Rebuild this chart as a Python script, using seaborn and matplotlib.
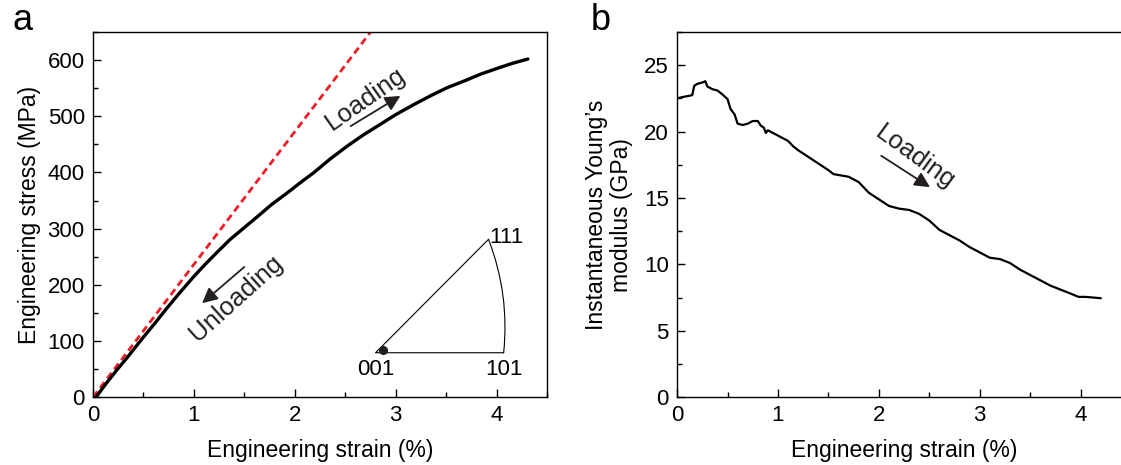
import numpy as np
import pandas as pd
import seaborn as sb
import matplotlib.pyplot as plt
from matplotlib.ticker import MultipleLocator

# panel a: stress-strain curve
strain_a = [0.03, 0.12, 0.23, 0.35, 0.5, 0.62, 0.73, 0.86, 1.0, 1.12, 1.23, 1.36, 1.5,
            1.64, 1.77, 1.92, 2.07, 2.19, 2.35, 2.52, 2.68, 2.85, 3.0, 3.18, 3.35,
            3.51, 3.68, 3.84, 4.0, 4.15, 4.31]
stress_a = [0, 22, 47, 73, 107, 133, 158, 186, 215, 238, 258, 281, 302,
            323, 343, 363, 384, 400, 424, 447, 467, 486, 503, 521, 537,
            551, 563, 575, 585, 594, 602]
# red dashed linear-elastic line
fit_strain = [0.0, 2.75]
fit_stress = [0, 650]

# panel b: instantaneous Young's modulus
strain_b = [0.0, 0.05, 0.12, 0.15, 0.17, 0.2, 0.25, 0.28, 0.3, 0.35, 0.4, 0.45, 0.5,
            0.53, 0.57, 0.6, 0.65, 0.7, 0.75, 0.8, 0.83, 0.86, 0.88, 0.9, 1.0, 1.1,
            1.15, 1.2, 1.3, 1.4, 1.5, 1.55, 1.7, 1.8, 1.9, 2.0, 2.1, 2.2, 2.3, 2.4,
            2.5, 2.6, 2.7, 2.8, 2.9, 3.0, 3.1, 3.2, 3.3, 3.4, 3.5, 3.6, 3.7, 3.8,
            3.9, 3.98, 4.05, 4.2]
modulus_b = [22.5, 22.6, 22.7, 22.75, 23.45, 23.6, 23.7, 23.8, 23.4, 23.2, 23.1, 22.8, 22.45,
             21.7, 21.3, 20.6, 20.5, 20.6, 20.8, 20.8, 20.45, 20.3, 19.9, 20.1, 19.7, 19.3,
             18.9, 18.6, 18.1, 17.6, 17.1, 16.8, 16.6, 16.2, 15.4, 14.9, 14.4, 14.2, 14.1, 13.8,
             13.3, 12.6, 12.2, 11.8, 11.3, 10.9, 10.5, 10.4, 10.1, 9.6, 9.2, 8.8, 8.4, 8.1,
             7.8, 7.55, 7.55, 7.45]

# inverse pole figure triangle (in panel a data units)
ipf_001 = (2.80, 79)
ipf_101 = (4.07, 79)
ipf_111 = (3.92, 281)
ipf_dot = (2.87, 84)

sb.set_theme(style="ticks")
plt.rcParams['font.family'] = ['Liberation Sans', 'DejaVu Sans']
plt.rcParams['text.color'] = 'black'
plt.rcParams['axes.labelcolor'] = 'black'
plt.rcParams['xtick.direction'] = 'in'
plt.rcParams['ytick.direction'] = 'in'

fig = plt.figure(figsize=(11.21, 4.65), dpi=100)
ax1 = fig.add_axes([0.083, 0.146, 0.405, 0.785])
ax2 = fig.add_axes([0.604, 0.146, 0.405, 0.785])

TICK_FS = 16
LABEL_FS = 16.5
NOTE_FS = 18.5
NOTE_COLOR = "#231f20"

# ---- panel a ----
sb.lineplot(x=fit_strain, y=fit_stress, ax=ax1, color="#ee1c25", lw=2.0,
            linestyle=(0, (2.6, 1.6)))
sb.lineplot(x=strain_a, y=stress_a, ax=ax1, color="black", lw=2.4)
ax1.set_xlim(0, 4.5)
ax1.set_ylim(0, 650)
ax1.xaxis.set_major_locator(MultipleLocator(1))
ax1.xaxis.set_minor_locator(MultipleLocator(0.5))
ax1.yaxis.set_major_locator(MultipleLocator(100))
ax1.yaxis.set_minor_locator(MultipleLocator(50))
ax1.set_xlabel("Engineering strain (%)", fontsize=LABEL_FS, labelpad=9)
ax1.set_ylabel("Engineering stress (MPa)", fontsize=LABEL_FS, labelpad=5)

ax1.annotate("", xy=(3.07, 539), xytext=(2.53, 480),
             arrowprops=dict(arrowstyle="-|>", color=NOTE_COLOR, lw=1.3,
                             mutation_scale=23))
ax1.text(2.70, 532, "Loading", rotation=35, ha="center", va="center",
         fontsize=NOTE_FS, rotation_mode="anchor", color=NOTE_COLOR)
ax1.annotate("", xy=(1.06, 164), xytext=(1.52, 235),
             arrowprops=dict(arrowstyle="-|>", color=NOTE_COLOR, lw=1.3,
                             mutation_scale=23))
ax1.text(1.42, 176, "Unloading", rotation=42, ha="center", va="center",
         fontsize=NOTE_FS, rotation_mode="anchor", color=NOTE_COLOR)

# inset triangle
ax1.plot([ipf_111[0], ipf_001[0], ipf_101[0]], [ipf_111[1], ipf_001[1], ipf_101[1]],
         color="black", lw=0.8)
ax1.annotate("", xy=ipf_101, xytext=ipf_111,
             arrowprops=dict(arrowstyle="-", color="black", lw=0.8,
                             connectionstyle="arc3,rad=-0.12",
                             shrinkA=0, shrinkB=0))
ax1.plot(*ipf_dot, "o", color=NOTE_COLOR, ms=5.5)
ax1.text(ipf_001[0], ipf_001[1] - 12, "001", ha="center", va="top", fontsize=TICK_FS)
ax1.text(ipf_101[0], ipf_101[1] - 12, "101", ha="center", va="top", fontsize=TICK_FS)
ax1.text(ipf_111[0] + 0.01, ipf_111[1] + 4, "111", ha="left", va="center", fontsize=TICK_FS)

# ---- panel b ----
sb.lineplot(x=strain_b, y=modulus_b, ax=ax2, color="black", lw=1.6)
ax2.set_xlim(0, 4.5)
ax2.set_ylim(0, 27.5)
ax2.xaxis.set_major_locator(MultipleLocator(1))
ax2.xaxis.set_minor_locator(MultipleLocator(0.5))
ax2.yaxis.set_major_locator(MultipleLocator(5))
ax2.yaxis.set_minor_locator(MultipleLocator(2.5))
ax2.set_xlabel("Engineering strain (%)", fontsize=LABEL_FS, labelpad=9)
ax2.set_ylabel("Instantaneous Young\u2019s\nmodulus (GPa)", fontsize=LABEL_FS,
               labelpad=8, linespacing=1.1)
ax2.annotate("", xy=(2.53, 15.7), xytext=(2.0, 18.3),
             arrowprops=dict(arrowstyle="-|>", color=NOTE_COLOR, lw=1.3,
                             mutation_scale=23))
ax2.text(2.36, 18.1, "Loading", rotation=-36, ha="center", va="center",
         fontsize=NOTE_FS, rotation_mode="anchor", color=NOTE_COLOR)

for ax in (ax1, ax2):
    for s in ax.spines.values():
        s.set_visible(True)
        s.set_linewidth(1.0)
        s.set_color("black")
    ax.tick_params(which="major", length=6, width=1, labelsize=TICK_FS, pad=6, colors="black")
    ax.tick_params(which="minor", length=3.5, width=1, colors="black")
    ax.tick_params(top=False, right=False, which="both")

fig.text(0.011, 0.955, "a", fontsize=26, va="center")
fig.text(0.527, 0.955, "b", fontsize=26, va="center")

fig.savefig("out.png", dpi=100)
